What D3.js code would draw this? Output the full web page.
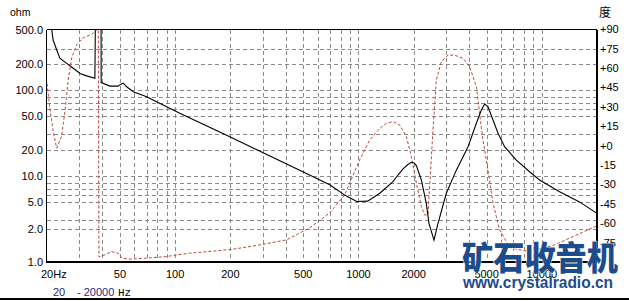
<!DOCTYPE html>
<meta charset="utf-8">
<style>
body { margin: 0; background: #fff; }
svg { display: block; }
text { font-family: "Liberation Sans", Arial, sans-serif; font-size: 11px; fill: #000; }
.grid line { stroke: #8a8a8a; stroke-dasharray: 4,3; shape-rendering: crispEdges; }
.frame line { stroke: #000; shape-rendering: crispEdges; }
</style>
<svg width="629" height="301"></svg>
<script src="https://d3js.org/d3.v7.min.js"></script>
<script>

// impedance curve (Hz, ohm)
var zFreq = [20, 21.2, 21.6, 22.6, 23.5, 25.6, 27.8, 30.3, 32.9, 36.5, 36.9,
             39.4, 39.5, 44.1, 48.9, 50.6, 52.1, 54.4, 59.1, 69.9, 86, 106,
             200, 478, 697, 841, 978, 1122, 1306, 1542, 1650, 1750, 1860, 1944, 2010, 2069, 2202,
             2344, 2425, 2582, 2713, 3014, 3418, 3959, 4396, 4679, 4877, 5084,
             5418, 5770, 6266, 7260, 8577, 9720, 12496, 16057, 20000];
var zOhm  = [900, 510, 381, 292, 234, 204, 179, 156, 146, 137, 2000,
             2000, 122, 111, 111, 117, 120, 109, 95.5, 83.6, 66.9, 53.6,
             28.4, 11.7, 7.9, 6.0, 5.05, 5.1, 6.3, 8.6, 10.4, 12.1, 13.6, 14.4, 14.2, 13.2, 9.0,
             4.8, 2.8, 1.8, 2.8, 6.3, 11.7, 21.9, 41, 58.5, 68.7, 64,
             44.8, 31.4, 21.9, 15.3, 11.2, 9.0, 6.57, 5.0, 3.68];

// phase curve (Hz, degrees)
var pFreq = [20, 20.8, 21.7, 22.6, 24.0, 25.1, 26.1, 27.3, 29.0, 31.5, 35.0,
             37.6, 38.1, 38.4, 41.4, 45.0, 48.9, 51.1, 56.7, 69.9, 89.8, 102,
             120, 168, 207, 290, 405, 542, 697, 841, 1015, 1152, 1306, 1420,
             1542, 1678, 1825, 1944, 2069, 2202, 2296, 2395, 2425, 2549, 2658,
             2832, 3077, 3346, 3713, 4039, 4396, 4578, 4774, 5084, 5418, 5884,
             6266, 6672, 8577, 11734, 15080, 20000];
var pDeg  = [48, 27.6, 9.6, -2, 7, 27.6, 50.8, 68, 78, 83.5, 86,
             90, 90, -86, -84.5, -82, -83.2, -87, -87.8, -87, -85.8, -84.5,
             -83.2, -81.4, -80.1, -76.8, -72.9, -63.6, -52, -38, -11, 4.4, 13.4, 17.3,
             18.6, 16, 7, -8.5, -29, -47, -53.6, -53.6, -39.4, 12, 50.8,
             65, 70, 70, 67.6, 61, 45.6, 25, 4.4, -18.8, -44.5, -65,
             -71.6, -79, -82, -76.8, -69.8, -62];

var hzTicks = [20, 50, 100, 200, 500, 1000, 2000, 5000, 10000];
var ohmTicks = [500, 200, 100, 50, 20, 10, 5, 2.45, 1];   // "2.0" sits high in the original
var ohmLabels = ["500.0", "200.0", "100.0", "50.0", "20.0", "10.0", "5.0", "2.0", "1.0"];
var ohmGrid = [300, 200, 100, 84, 71, 60, 50, 31, 20, 10, 8.4, 7.1, 6, 5, 3.1, 2.45];
var degTicks = [90, 75, 60, 45, 30, 15, 0, -15, -30, -45, -60, -75];
var degLabels = ["+90", "+75", "+60", "+45", "+30", "+15", "+0", "-15", "-30", "-45", "-60", "-75"];

var svg = d3.select("svg");
var plotL = 46.5, plotR = 597, plotT = 29.5, plotB = 262;

var x = d3.scaleLog().domain([20, 20000]).range([47, 597]);
var y = d3.scaleLog().domain([1, 500]).range([262, 29.9]);
var yp = d3.scaleLinear().domain([-90, 90]).range([262, 29.3]);

svg.append("clipPath").attr("id", "plot")
  .append("rect").attr("x", plotL).attr("y", plotT)
  .attr("width", plotR - plotL).attr("height", plotB - plotT);

// grid
var vgrid = [];
[10, 100, 1000].forEach(function(d) {
  for (var k = 1; k < 10; k++) if (d * k > 20) vgrid.push(d * k);
});
vgrid.push(10000);

var grid = svg.append("g").attr("class", "grid");
grid.selectAll(".v").data(vgrid).enter().append("line")
    .attr("x1", function(d) { return Math.round(x(d)) + 0.5; })
    .attr("x2", function(d) { return Math.round(x(d)) + 0.5; })
    .attr("y1", plotT).attr("y2", plotB);
grid.selectAll(".h").data(ohmGrid).enter().append("line")
    .attr("y1", function(d) { return Math.round(y(d)) + 0.5; })
    .attr("y2", function(d) { return Math.round(y(d)) + 0.5; })
    .attr("x1", plotL).attr("x2", plotR);

// curves
var zLine = d3.line()
    .x(function(d, i) { return x(zFreq[i]); })
    .y(function(d) { return y(d); });
var pLine = d3.line()
    .x(function(d, i) { return x(pFreq[i]); })
    .y(function(d) { return yp(d); });

svg.append("path").attr("clip-path", "url(#plot)")
    .attr("d", pLine(pDeg))
    .attr("fill", "none").attr("stroke", "#b84a3c").attr("stroke-width", 1)
    .attr("stroke-dasharray", "3,2");
svg.append("path").attr("clip-path", "url(#plot)")
    .attr("d", zLine(zOhm))
    .attr("fill", "none").attr("stroke", "#000").attr("stroke-width", 1.1);

// frame
var frame = svg.append("g").attr("class", "frame");
frame.append("line").attr("x1", plotL).attr("x2", plotR).attr("y1", plotT).attr("y2", plotT).attr("stroke-width", 1);
frame.append("line").attr("x1", plotL).attr("x2", plotL).attr("y1", plotT).attr("y2", plotB + 1).attr("stroke-width", 1.5);
frame.append("line").attr("x1", plotR).attr("x2", plotR).attr("y1", plotT).attr("y2", plotB + 1).attr("stroke-width", 2);
frame.append("line").attr("x1", plotL).attr("x2", plotR + 1).attr("y1", plotB).attr("y2", plotB).attr("stroke-width", 2);
frame.append("line").attr("x1", 0).attr("x2", 629).attr("y1", 299).attr("y2", 299).attr("stroke-width", 2);

// axis labels
svg.append("g").selectAll("text").data(ohmTicks).enter().append("text")
    .attr("x", 43).attr("y", function(d) { return y(d) + 4; })
    .attr("text-anchor", "end")
    .text(function(d, i) { return ohmLabels[i]; });

svg.append("g").selectAll("text").data(degTicks).enter().append("text")
    .attr("x", 600).attr("y", function(d) { return yp(d) + 4; })
    .text(function(d, i) { return degLabels[i]; });

svg.append("g").selectAll("text").data(hzTicks).enter().append("text")
    .attr("x", function(d) { return d == 20 ? x(d) - 6 : x(d); })
    .attr("y", 278)
    .attr("text-anchor", function(d) { return d == 20 ? "start" : "middle"; })
    .text(function(d) { return d == 20 ? "20Hz" : d; });

svg.append("text").attr("x", 10).attr("y", 16).style("font-size", "10.5px").text("ohm");
svg.append("text").attr("x", 599).attr("y", 17)
    .style("font-family", "'Noto Sans CJK SC'").style("font-size", "12px").text("度");

// range note under the axis
svg.append("text").attr("x", 53).attr("y", 296).style("fill", "#1a2a8a").text("20");
svg.append("text").attr("x", 77).attr("y", 296).style("fill", "#1a2a8a").text("- 20000");
svg.append("text").attr("x", 118).attr("y", 296).style("font-family", "'Liberation Mono'").text("Hz");

// watermark
svg.append("text").attr("x", 462).attr("y", 270)
    .attr("textLength", 156).attr("lengthAdjust", "spacingAndGlyphs")
    .style("font-family", "'Noto Sans CJK SC'").style("font-weight", "900")
    .style("font-size", "33px").style("fill", "#1d4c8c")
    .style("stroke", "#fff").style("stroke-width", 1).style("paint-order", "stroke")
    .text("矿石收音机");
svg.append("text").attr("x", 463).attr("y", 288)
    .attr("textLength", 150).attr("lengthAdjust", "spacingAndGlyphs")
    .style("font-weight", "bold").style("font-size", "16px").style("fill", "#1d4c8c")
    .text("www.crystalradio.cn");

</script>
